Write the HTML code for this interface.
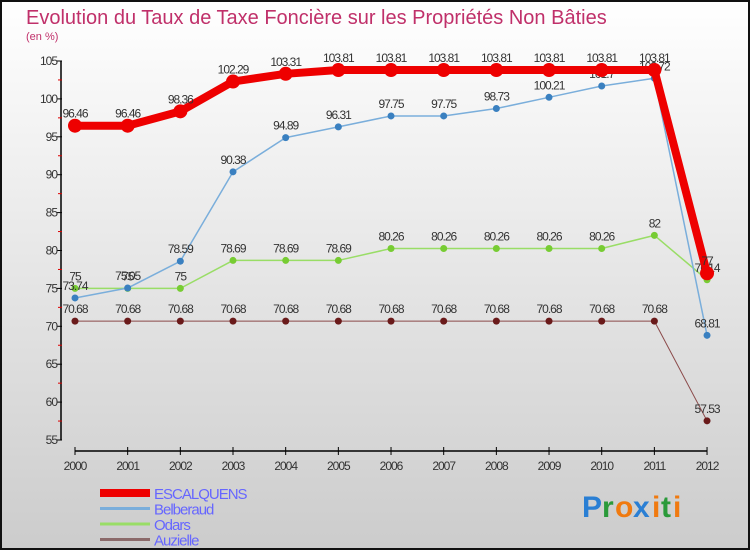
<!DOCTYPE html>
<html><head><meta charset="utf-8"><style>
html,body{margin:0;padding:0}
body{width:750px;height:550px;overflow:hidden;font-family:"Liberation Sans",sans-serif}
</style></head><body>
<svg id="chart" width="750" height="550" xmlns="http://www.w3.org/2000/svg">
<defs><linearGradient id="bg" x1="0" y1="0" x2="0" y2="1"><stop offset="0" stop-color="#ffffff"/><stop offset="1" stop-color="#cccccc"/></linearGradient></defs>
<rect x="1" y="1" width="748" height="548" fill="url(#bg)" stroke="#111" stroke-width="2"/>
<text x="26" y="24" font-size="20" fill="#c0306a">Evolution du Taux de Taxe Foncière sur les Propriétés Non Bâties</text>
<text x="26" y="40" font-size="11" fill="#c0306a">(en %)</text>
<g id="axes"></g>
<g id="series"></g>
<g id="legend"></g>
<g font-size="30" font-weight="bold">
<text x="582" y="517" fill="#2a7fd4">P</text><text x="602" y="517" fill="#2a9a3a">r</text><text x="615" y="517" fill="#f07a10">o</text><text x="633" y="517" fill="#2a7fd4">x</text><text x="652" y="517" fill="#f07a10">i</text><text x="661" y="517" fill="#2a9a3a">t</text><text x="673" y="517" fill="#f07a10">i</text>
</g>
</svg>
<script>
const years=["2000","2001","2002","2003","2004","2005","2006","2007","2008","2009","2010","2011","2012"];
const yTicks=[55,60,65,70,75,80,85,90,95,100,105];
const escalquens=[96.46,96.46,98.36,102.29,103.31,103.81,103.81,103.81,103.81,103.81,103.81,103.81,77];
const belberaud=[73.74,75.05,78.59,90.38,94.89,96.31,97.75,97.75,98.73,100.21,101.7,102.72,68.81];
const odars=[75,75,75,78.69,78.69,78.69,80.26,80.26,80.26,80.26,80.26,82,76.14];
const auzielle=[70.68,70.68,70.68,70.68,70.68,70.68,70.68,70.68,70.68,70.68,70.68,70.68,57.53];
const NS="http://www.w3.org/2000/svg";
const X=i=>75+i*52.67;
const Y=v=>440-(v-55)*7.58;
function mk(t,a,p){const e=document.createElementNS(NS,t);for(const k in a)e.setAttribute(k,a[k]);p.appendChild(e);return e;}
const ax=document.getElementById('axes');
let l=mk('line',{x1:61,y1:Y(105),x2:61,y2:Y(55),stroke:'#000','stroke-width':1.5},ax);


yTicks.forEach(v=>{
  mk('line',{x1:57,y1:Y(v),x2:62,y2:Y(v),stroke:'#000'},ax);
  if(v<105)mk('line',{x1:58,y1:Y(v+2.5),x2:62,y2:Y(v+2.5),stroke:'#d00'},ax);
  const t=mk('text',{x:57,y:Y(v)+4,'font-size':12,'text-anchor':'end',fill:'#333','letter-spacing':'-1'},ax);
  
  
  t.textContent=v;
});
l=mk('line',{x1:X(0),y1:451,x2:X(12),y2:451,stroke:'#000','stroke-width':1.5},ax);


years.forEach((y,i)=>{
  mk('line',{x1:X(i),y1:447,x2:X(i),y2:455,stroke:'#000'},ax);
  const t=mk('text',{x:X(i),y:470,'font-size':12,'text-anchor':'middle',fill:'#333','letter-spacing':'-1'},ax);
  
  
  t.textContent=y;
});
const sg=document.getElementById('series');
function series(name,data,color,w,r,dot){
  const g=mk('g',{},sg);
  
  
  const pl=mk('polyline',{points:data.map((v,i)=>X(i)+','+Y(v)).join(' '),fill:'none',stroke:color,'stroke-width':w,'stroke-linejoin':'round'},g);
  
  
  data.forEach((v,i)=>{
    const c=mk('circle',{cx:X(i),cy:Y(v),r:r,fill:dot},g);
    
    
    const t=mk('text',{x:X(i),y:Y(v)-8,'font-size':12,'text-anchor':'middle',fill:'#333','letter-spacing':'-1'},g);
    
    
    t.textContent=v;
  });
}
series('auzielle',auzielle,'#8b4a4a',1,3.5,'#6a1a1a');
series('odars',odars,'#99dd66',1.5,3.5,'#77cc33');
series('belberaud',belberaud,'#7aaedb',1.5,3.5,'#3a80c0');
series('escalquens',escalquens,'#ee0000',8,7,'#ee0000');
const lg=document.getElementById('legend');
[['ESCALQUENS','#ee0000',8],['Belberaud','#7aaedb',3],['Odars','#99dd66',3],['Auzielle','#8b6a6a',3]].forEach((s,i)=>{
  const y=493+i*15.5;
  mk('line',{x1:100,y1:y,x2:150,y2:y,stroke:s[1],'stroke-width':s[2]},lg);
  const t=mk('text',{x:154,y:y+6,'font-size':15,fill:'#6666ff','letter-spacing':'-1'},lg);
  
  
  t.textContent=s[0];
});
</script>
</body></html>
